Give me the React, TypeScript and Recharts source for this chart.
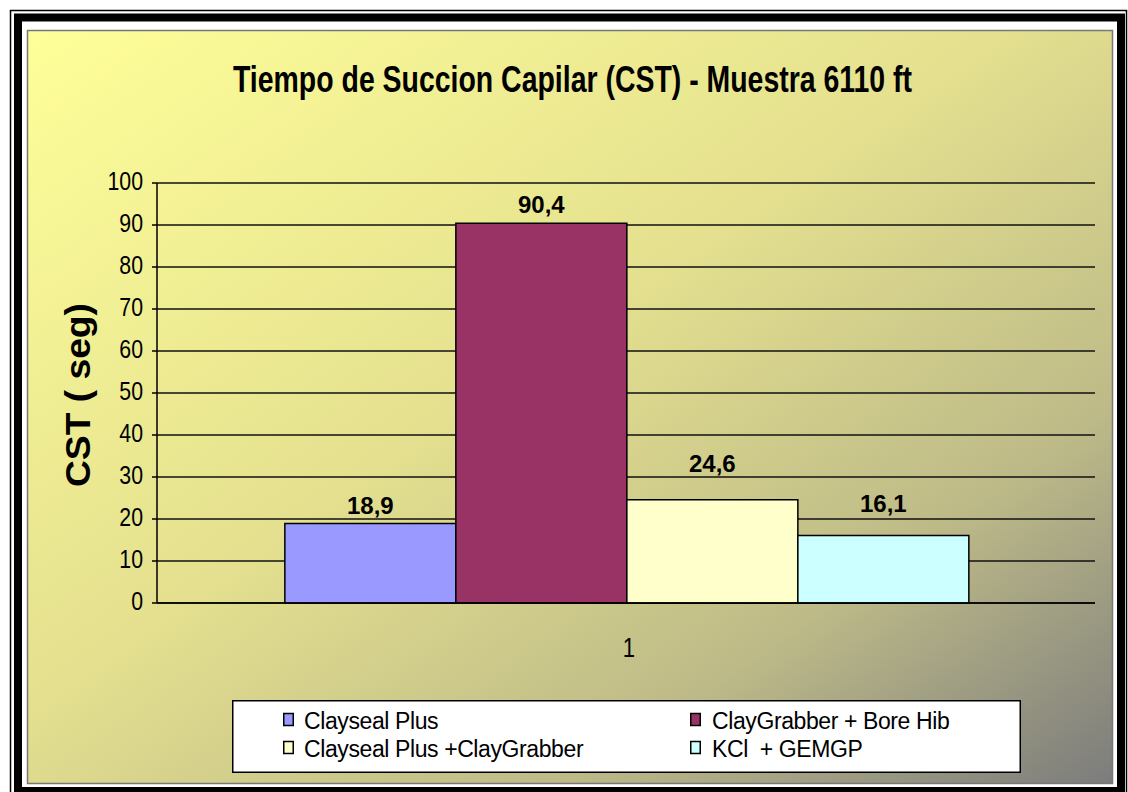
import React from 'react';
import { BarChart, Bar, XAxis, YAxis, CartesianGrid, Legend, LabelList } from 'recharts';

const categories = ['1'];
const seriesKeys = ['s0', 's1', 's2', 's3'];
const seriesNames = ['Clayseal Plus', 'ClayGrabber + Bore Hib', 'Clayseal Plus +ClayGrabber', 'KCl  + GEMGP'];
const claysealPlus = [18.9];
const clayGrabberBoreHib = [90.4];
const claysealPlusClayGrabber = [24.6];
const kclGemgp = [16.1];
const yTicks = [0, 10, 20, 30, 40, 50, 60, 70, 80, 90, 100];
const titleText = 'Tiempo de Succion Capilar (CST) - Muestra 6110 ft';
const yAxisTitle = 'CST ( seg)';

const seriesColors = ['#9999FF', '#993366', '#FFFFCC', '#CCFFFF'];
const labelOffsets = [10, 10, 28, 23];

const data = categories.map((c, i) => ({
  name: c,
  s0: claysealPlus[i],
  s1: clayGrabberBoreHib[i],
  s2: claysealPlusClayGrabber[i],
  s3: kclGemgp[i],
}));

const FONT = '"Liberation Sans", Arial, sans-serif';

const fmt = (v: any) => String(v).replace('.', ',');

const YTick = (props: any) => {
  const { x, y, payload } = props;
  return (
    <text transform={`translate(${x},${y}) scale(0.82,1)`} x={0} y={7} textAnchor="end" fontSize={26} fontFamily={FONT} fill="#000">
      {payload.value}
    </text>
  );
};

const XTick = (props: any) => {
  const { x, y, payload } = props;
  return (
    <text transform={`translate(${x + 3},${y}) scale(0.82,1)`} x={0} y={46} textAnchor="middle" fontSize={27} fontFamily={FONT} fill="#000">
      {payload.value}
    </text>
  );
};

const YLabel = (props: any) => {
  const vb = props.viewBox || { x: 0, y: 0, width: 0, height: 0 };
  const cy = vb.y + vb.height / 2 + 2;
  const cx = 90;
  return (
    <text
      x={cx}
      y={cy}
      transform={`rotate(-90, ${cx}, ${cy})`}
      textAnchor="middle"
      fontSize={35}
      fontWeight="bold"
      fontFamily={FONT}
      fill="#000"
      textLength={184}
      lengthAdjust="spacingAndGlyphs"
      style={{ whiteSpace: 'pre' }}
    >
      {yAxisTitle}
    </text>
  );
};

const renderLegend = (props: any) => {
  const payload = props.payload || [];
  return (
    <svg width={789} height={73} style={{ display: 'block' }}>
      <rect x={0.75} y={0.75} width={787.5} height={71.5} fill="#FFFFFF" stroke="#000" strokeWidth={1.5} />
      {payload.map((entry: any) => {
        const idx = seriesNames.indexOf(entry.value);
        const i = idx < 0 ? 0 : idx;
        const col = i % 2;
        const row = Math.floor(i / 2);
        const sx = col === 0 ? 51 : 458;
        const tx = col === 0 ? 72 : 480;
        const base = row === 0 ? 29 : 57;
        return (
          <g key={entry.value}>
            <rect x={sx + 0.75} y={base - 15.5} width={9.5} height={12} fill={entry.color} stroke="#000" strokeWidth={1.5} />
            <text x={tx} y={base} fontSize={23} fontFamily={FONT} fill="#000" style={{ whiteSpace: 'pre' }} letterSpacing={-0.4}>
              {entry.value}
            </text>
          </g>
        );
      })}
    </svg>
  );
};

export default function App() {
  return (
    <div style={{ position: 'absolute', left: 0, top: 0, width: 1128, height: 792, background: '#FFFFFF', overflow: 'hidden' }}>
      <svg width={1128} height={792} style={{ position: 'absolute', left: 0, top: 0 }}>
        <defs>
          <linearGradient id="bgGrad" x1="0" y1="0" x2="1" y2="1">
            <stop offset="0" stopColor="#FFFF99" />
            <stop offset="0.45" stopColor="#E4E08F" />
            <stop offset="0.75" stopColor="#BDBA88" />
            <stop offset="1" stopColor="#7C7C7C" />
          </linearGradient>
        </defs>
        <rect x={10.5} y={10.5} width={1116} height={800} fill="none" stroke="#000" strokeWidth={1.5} />
        <rect x={18} y={17.5} width={1103} height={773.5} fill="none" stroke="#000" strokeWidth={8} />
        <rect x={27.5} y={30.5} width={1085} height={753} fill="url(#bgGrad)" stroke="#777" strokeWidth={1.5} />
        <text
          x={572.5}
          y={92}
          textAnchor="middle"
          fontSize={37}
          fontWeight="bold"
          fontFamily={FONT}
          fill="#000"
          textLength={679}
          lengthAdjust="spacingAndGlyphs"
        >
          {titleText}
        </text>
      </svg>
      <div style={{ position: 'absolute', left: 0, top: 0 }}>
        <BarChart
          width={1128}
          height={792}
          data={data}
          margin={{ top: 183, right: 33, bottom: 149, left: 97 }}
          barCategoryGap="13.63%"
          barGap={0}
        >
          <CartesianGrid vertical={false} stroke="#111" strokeWidth={1.5} />
          <XAxis
            dataKey="name"
            height={40}
            tickLine={false}
            tickSize={8}
            tickMargin={0}
            axisLine={{ stroke: '#000', strokeWidth: 1.5 }}
            tick={<XTick />}
          />
          <YAxis
            width={60}
            domain={[0, 100]}
            ticks={yTicks}
            interval={0}
            tickSize={5}
            tickMargin={9}
            tickLine={{ stroke: '#000', strokeWidth: 1.5 }}
            axisLine={{ stroke: '#000', strokeWidth: 1.5 }}
            tick={<YTick />}
            label={<YLabel />}
          />
          <Legend
            layout="horizontal"
            verticalAlign="middle"
            align="center"
            itemSorter={null as any}
            content={renderLegend}
            wrapperStyle={{ left: 232, top: 700, width: 789, height: 73 }}
          />
          {seriesKeys.map((k, i) => (
            <Bar
              key={k}
              dataKey={k}
              name={seriesNames[i]}
              fill={seriesColors[i]}
              stroke="#000"
              strokeWidth={1.5}
              isAnimationActive={false}
            >
              <LabelList
                dataKey={k}
                position="top"
                offset={labelOffsets[i]}
                formatter={fmt}
                fill="#000"
                fontSize={24}
                fontWeight="bold"
                fontFamily={FONT}
              />
            </Bar>
          ))}
        </BarChart>
      </div>
    </div>
  );
}
